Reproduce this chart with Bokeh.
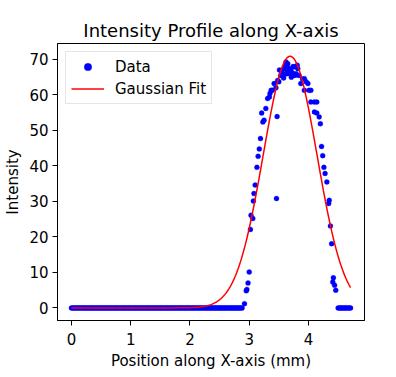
import numpy as np
from bokeh.plotting import figure
from bokeh.models import Range1d, FixedTicker, Legend, LegendItem
from bokeh.embed import file_html
from bokeh.resources import INLINE

# --- data ---
# flat (zero-intensity) stretches of the profile: start, end, number of samples
zero_left = (0.0, 2.88, 145)
zero_right = (4.50, 4.71, 11)

peak_x = [2.92, 2.95, 2.96, 2.98, 3.00, 3.02, 3.03, 3.06, 3.07, 3.08, 3.10, 3.13, 3.15,
          3.17, 3.19, 3.21, 3.23, 3.25, 3.28, 3.31, 3.34, 3.35, 3.37, 3.39, 3.42, 3.45,
          3.46, 3.47, 3.48, 3.50, 3.51, 3.53, 3.55, 3.56, 3.58, 3.59, 3.60, 3.62, 3.62,
          3.64, 3.65, 3.67, 3.68, 3.70, 3.71, 3.73, 3.74, 3.76, 3.77, 3.79, 3.81, 3.82,
          3.84, 3.87, 3.90, 3.93, 3.93, 3.96, 3.99, 4.01, 4.04, 4.04, 4.10, 4.10, 4.14,
          4.14, 4.18, 4.20, 4.22, 4.24, 4.26, 4.28, 4.31, 4.34, 4.35, 4.37, 4.39, 4.41,
          4.42, 4.44, 4.46]
peak_y = [1.2, 4.8, 5.2, 7.0, 10.1, 22.1, 26.1, 25.2, 30.1, 32.2, 34.6, 39.6, 42.7,
          44.8, 47.7, 54.9, 52.4, 52.9, 56.2, 59.0, 59.4, 60.4, 61.3, 61.3, 63.2, 62.0,
          30.8, 53.9, 64.1, 63.7, 67.0, 65.5, 66.5, 65.5, 64.8, 67.4, 68.0, 65.9, 69.3,
          66.5, 68.8, 67.5, 66.0, 66.9, 65.0, 66.2, 68.0, 67.9, 65.5, 66.0, 68.4, 67.4,
          65.5, 63.2, 64.5, 64.6, 61.3, 63.7, 63.2, 61.3, 61.3, 58.0, 58.0, 55.2, 58.0,
          54.9, 53.8, 51.9, 45.5, 42.9, 39.6, 37.9, 35.5, 29.4, 30.3, 23.1, 18.1, 7.3,
          8.5, 6.4, 5.0]

# Gaussian fit parameters (amplitude, centre, width)
fit_amp = 70.9
fit_mu = 3.69
fit_sigma = 0.455
fit_x_range = (0.0, 4.71)

x_ticks = [0, 1, 2, 3, 4]
y_ticks = [0, 10, 20, 30, 40, 50, 60, 70]

# --- assemble ---
zl = np.linspace(*zero_left)
zr = np.linspace(*zero_right)
data_x = np.concatenate([zl, np.array(peak_x), zr])
data_y = np.concatenate([np.zeros(len(zl)), np.array(peak_y), np.zeros(len(zr))])

fx = np.linspace(fit_x_range[0], fit_x_range[1], 400)
fy = fit_amp * np.exp(-(fx - fit_mu) ** 2 / (2 * fit_sigma ** 2))

FONT = "DejaVu Sans"

p = figure(width=396, height=377, output_backend="svg", toolbar_location=None,
           x_range=Range1d(-0.235, 4.945), y_range=Range1d(-3.55, 74.5),
           min_border_left=57, min_border_right=32, min_border_top=43,
           min_border_bottom=57)
p.title.text = "Intensity Profile along X-axis"
p.title.text_font = FONT
p.title.text_font_size = "18px"
p.title.text_font_style = "normal"
p.title.text_color = "black"
p.title.align = "center"
p.title.standoff = 5

p.xgrid.visible = False
p.ygrid.visible = False
p.outline_line_color = "black"
p.outline_line_width = 1
p.outline_line_alpha = 1.0
p.background_fill_color = "white"
p.border_fill_color = "white"

for ax in (p.xaxis[0], p.yaxis[0]):
    ax.axis_line_color = "black"
    ax.major_tick_line_color = "black"
    ax.major_tick_out = 5
    ax.major_tick_in = 0
    ax.minor_tick_line_color = None
    ax.major_label_text_font = FONT
    ax.major_label_text_font_size = "15px"
    ax.major_label_text_color = "black"
    ax.axis_label_text_font = FONT
    ax.axis_label_text_font_size = "15px"
    ax.axis_label_text_font_style = "normal"
    ax.axis_label_text_color = "black"
    ax.major_label_standoff = 4

p.xaxis[0].major_label_standoff = 7
p.xaxis[0].ticker = FixedTicker(ticks=x_ticks)
p.yaxis[0].ticker = FixedTicker(ticks=y_ticks)
p.xaxis[0].axis_label = "Position along X-axis (mm)"
p.yaxis[0].axis_label = "Intensity"
p.xaxis[0].axis_label_standoff = 4
p.yaxis[0].axis_label_standoff = 4

r_data = p.scatter(data_x, data_y, size=5, fill_color="blue", line_color="blue",
                   line_width=0.3)
r_fit = p.line(fx, fy, line_color="red", line_width=1.5)

legend = Legend(items=[LegendItem(label="Data", renderers=[r_data]),
                       LegendItem(label="Gaussian Fit", renderers=[r_fit])],
                location="top_left")
legend.margin = 8
legend.padding = 5
legend.spacing = 3
legend.glyph_width = 33
legend.glyph_height = 19
legend.label_standoff = 11
legend.label_text_font = FONT
legend.label_text_font_size = "15px"
legend.label_text_color = "black"
legend.border_line_color = "#cccccc"
legend.border_line_width = 1
legend.background_fill_alpha = 0.8
p.add_layout(legend)

open("out.html", "w").write(file_html(p, INLINE))
